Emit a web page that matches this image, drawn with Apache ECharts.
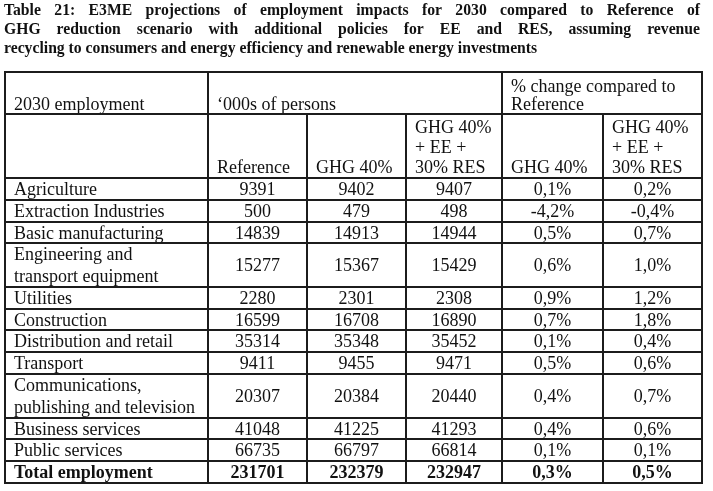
<!DOCTYPE html>
<html><head><meta charset="utf-8">
<script src="https://cdn.jsdelivr.net/npm/echarts@6/dist/echarts.min.js"></script>
<style>html,body{margin:0;padding:0;background:#fff}#c{width:713px;height:491px}</style>
</head><body><div id="c"></div>
<script>
// ---- data ----
const titleLines = [
  'Table 21: E3ME projections of employment impacts for 2030 compared to Reference of',
  'GHG reduction scenario with additional policies for EE and RES, assuming revenue',
  'recycling to consumers and energy efficiency and renewable energy investments'
];
const headerTop = ['2030 employment', '\u2018000s of persons', '% change compared to\nReference'];
const columnHeaders = ['Reference', 'GHG 40%', 'GHG 40%\n+ EE +\n30% RES', 'GHG 40%', 'GHG 40%\n+ EE +\n30% RES'];
const categories = [
  'Agriculture', 'Extraction Industries', 'Basic manufacturing',
  'Engineering and\ntransport equipment', 'Utilities', 'Construction',
  'Distribution and retail', 'Transport', 'Communications,\npublishing and television',
  'Business services', 'Public services', 'Total employment'
];
const reference = [9391, 500, 14839, 15277, 2280, 16599, 35314, 9411, 20307, 41048, 66735, 231701];
const ghg40 = [9402, 479, 14913, 15367, 2301, 16708, 35348, 9455, 20384, 41225, 66797, 232379];
const ghg40EeRes = [9407, 498, 14944, 15429, 2308, 16890, 35452, 9471, 20440, 41293, 66814, 232947];
const pctGhg40 = [0.1, -4.2, 0.5, 0.6, 0.9, 0.7, 0.1, 0.5, 0.4, 0.4, 0.1, 0.3];
const pctGhg40EeRes = [0.2, -0.4, 0.7, 1.0, 1.2, 1.8, 0.4, 0.6, 0.7, 0.6, 0.1, 0.5];

// ---- layout ----
const FONT = "'Liberation Serif', 'Times New Roman', serif";
const LINE = '#1c1c1c';
const TEXT = '#111';
const BODY_SIZE = 18;
const colEdges = [0, 203, 302, 401, 497, 598, 697];
const headerEdges = [0, 42, 106];
const bodyTop = 106, bodyBottom = 411;
const lineCounts = categories.map(c => c.split('\n').length);
const unit = (bodyBottom - bodyTop) / lineCounts.reduce((a, b) => a + b, 0);
const rowEdges = headerEdges.slice();
let yAcc = bodyTop;
lineCounts.forEach(n => { yAcc += n * unit; rowEdges.push(Math.round(yAcc)); });

const pct = v => v.toFixed(1).replace('.', ',') + '%';
const cells = [];
cells.push({c0: 0, c1: 0, r0: 0, r1: 0, text: headerTop[0], pos: 'lb', lh: 18});
cells.push({c0: 1, c1: 3, r0: 0, r1: 0, text: headerTop[1], pos: 'lb', lh: 18});
cells.push({c0: 4, c1: 5, r0: 0, r1: 0, text: headerTop[2], pos: 'lb', lh: 18});
cells.push({c0: 0, c1: 0, r0: 1, r1: 1, text: '', pos: 'lb', lh: 20});
columnHeaders.forEach((t, i) => cells.push({c0: i + 1, c1: i + 1, r0: 1, r1: 1, text: t, pos: 'lb', lh: 20}));
categories.forEach((cat, i) => {
  const r = i + 2;
  const bold = i === categories.length - 1;
  const vals = [reference[i], ghg40[i], ghg40EeRes[i], pct(pctGhg40[i]), pct(pctGhg40EeRes[i])];
  cells.push({c0: 0, c1: 0, r0: r, r1: r, text: cat, pos: 'lm', bold, lh: 22});
  vals.forEach((v, j) => cells.push({c0: j + 1, c1: j + 1, r0: r, r1: r, text: String(v), pos: 'cm', bold, lh: 22}));
});

// ---- title justification ----
const TITLE_SIZE = 15.7;
const mctx = document.createElement('canvas').getContext('2d');
mctx.font = 'bold ' + TITLE_SIZE + 'px ' + FONT;
const titleX0 = 4, titleX1 = 700;
const titleY = [11, 30, 49];
const graphics = [];
titleLines.forEach((line, li) => {
  const words = line.split(' ');
  const last = li === titleLines.length - 1;
  const widths = words.map(w => mctx.measureText(w).width);
  const total = widths.reduce((a, b) => a + b, 0);
  const gap = last ? mctx.measureText(' ').width : (titleX1 - titleX0 - total) / (words.length - 1);
  let x = titleX0;
  words.forEach((w, k) => {
    graphics.push({type: 'text', x: x, y: titleY[li], style: {
      text: w, fontFamily: FONT, fontWeight: 'bold', fontSize: TITLE_SIZE, fill: TEXT,
      align: 'left', verticalAlign: 'middle'}});
    x += widths[k] + gap;
  });
});

const chart = echarts.init(document.getElementById('c'), null, {renderer: 'canvas'});
chart.setOption({
  animation: false,
  backgroundColor: '#fff',
  grid: {left: 5, top: 72, width: 697, height: 411},
  xAxis: {type: 'value', min: 0, max: 697, show: false},
  yAxis: {type: 'value', min: 0, max: 411, inverse: true, show: false},
  graphic: graphics,
  series: [{
    type: 'custom',
    coordinateSystem: 'cartesian2d',
    data: cells.map((c, i) => [i]),
    renderItem: function (params, api) {
      const cell = cells[params.dataIndex];
      const p0 = api.coord([colEdges[cell.c0], rowEdges[cell.r0]]);
      const p1 = api.coord([colEdges[cell.c1 + 1], rowEdges[cell.r1 + 1]]);
      const x = p0[0], y = p0[1], w = p1[0] - p0[0], h = p1[1] - p0[1];
      const children = [{type: 'rect', shape: {x, y, width: w, height: h},
        style: {fill: 'none', stroke: LINE, lineWidth: 2}}];
      if (cell.text) {
        let tx, ty, align, va;
        if (cell.pos === 'lb') { tx = x + 9; ty = y + h; align = 'left'; va = 'bottom'; }
        else if (cell.pos === 'lm') { tx = x + 9; ty = y + h / 2 + 1.5; align = 'left'; va = 'middle'; }
        else { tx = x + w / 2; ty = y + h / 2 + 1.5; align = 'center'; va = 'middle'; }
        children.push({type: 'text', style: {
          text: cell.text, x: tx, y: ty, align: align, verticalAlign: va,
          fontFamily: FONT, fontSize: BODY_SIZE, fontWeight: cell.bold ? 'bold' : 'normal',
          lineHeight: cell.lh, fill: TEXT}});
      }
      return {type: 'group', children};
    }
  }]
});
</script></body></html>
